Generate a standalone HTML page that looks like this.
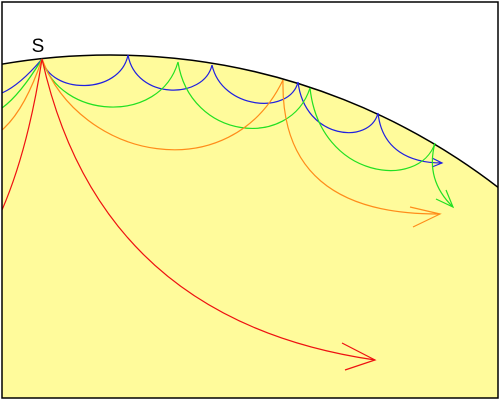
<!DOCTYPE html>
<html><head><meta charset="utf-8"><style>
html,body{margin:0;padding:0;background:#fff;width:500px;height:401px;overflow:hidden;}
svg{display:block;}
</style></head><body>
<svg width="500" height="401" viewBox="0 0 500 401">
<defs><clipPath id="c"><rect x="2" y="2" width="496" height="396"/></clipPath></defs>
<g clip-path="url(#c)">
<circle cx="110" cy="690" r="635" fill="#fffb9b" stroke="#000" stroke-width="1.5"/>
<g fill="none" stroke-width="1.2">
<g stroke="#2020e0">
<path d="M42,59 Q20,85 2,93"/>
<path d="M42,59 C50,95 120,95 128,55"/>
<path d="M128,55 C136,100 204,100 212,65"/>
<path d="M212,65 C222,110 290,115 298,82"/>
<path d="M298,82 C305,140 370,145 378,113"/>
<path d="M378,113 C382,150 410,163 442,163"/>
<path d="M432,158 L442,163 L432,167"/>
</g>
<g stroke="#22e022">
<path d="M42,59 Q20,95 2,108"/>
<path d="M42,59 C60,120 160,125 178,62"/>
<path d="M178,62 C190,140 290,150 310,88"/>
<path d="M310,88 C320,180 420,190 435,143"/>
<path d="M435,143 Q425,180 453,207"/>
<path d="M436,199 L453,207 L446,190"/>
</g>
<g stroke="#ff8c1a">
<path d="M42,59 Q25,110 2,130"/>
<path d="M42,59 C80,160 230,190 283,80"/>
<path d="M283,80 Q280,215 440,214"/>
<path d="M410,207 L440,214 L413,227"/>
</g>
<g stroke="#ee1111">
<path d="M42,59 Q28,150 2,210"/>
<path d="M42,59 Q100,320 375,360"/>
<path d="M342,343 L375,360 L345,370"/>
</g>
</g>
</g>
<rect x="2" y="2" width="496" height="396" fill="none" stroke="#000" stroke-width="1.5"/>
<text x="38" y="52" font-family="Liberation Sans, sans-serif" font-size="19" text-anchor="middle">S</text>
</svg>
</body></html>
